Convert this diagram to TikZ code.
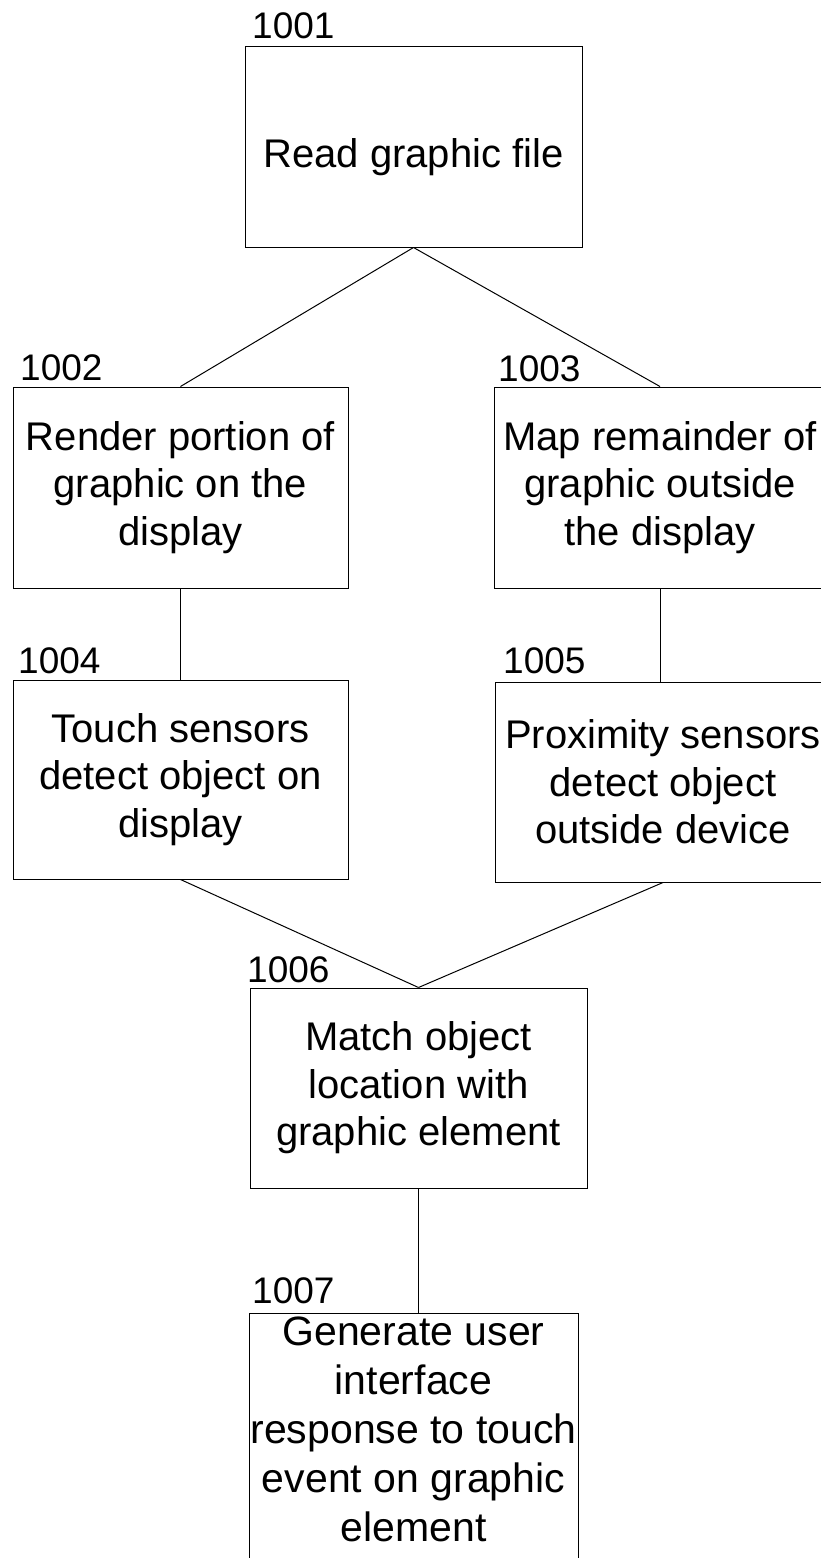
\documentclass[tikz,border=0pt]{standalone}
\usepackage{fontspec}
\setmainfont{Liberation Sans}
\begin{document}
\begin{tikzpicture}[x=1pt,y=-1pt,
  box/.style={draw=black, line width=1pt, minimum width=335pt, minimum height=200pt,
    inner sep=0pt, align=center, font=\fontsize{40}{47.5}\selectfont},
  num/.style={anchor=base west, inner sep=0pt, font=\fontsize{37}{40}\selectfont},
  link/.style={draw=black, line width=1pt}]
\clip (0,0) rectangle (821,1558);
\fill[white] (0,0) rectangle (821,1558);
\node[box, minimum width=337pt, minimum height=201pt, text height=45pt, text depth=4pt] (n1) at (413.5,146.5) {Read graphic file};
\node[box, minimum height=201pt] (n2) at (180.5,487.5) {Render portion of\\graphic on the\\display};
\node[box, minimum width=332pt, minimum height=201pt] (n3) at (660,487.5) {Map remainder of\\graphic outside\\the display};
\node[box, minimum height=199pt] (n4) at (180.5,779.5) {Touch sensors\\detect object on\\display};
\node[box, minimum width=336pt] (n5) at (663,782) {Proximity sensors\\detect object\\outside device};
\node[box, minimum width=337pt] (n6) at (418.5,1088) {Match object\\location with\\graphic element};
\node[box, anchor=north, minimum width=329pt, minimum height=0pt, inner ysep=3pt,
  font=\fontsize{41}{49}\selectfont] (n7) at (413.5,1313)
  {Generate user\\interface\\response to touch\\event on graphic\\element\rule[-40pt]{0pt}{1pt}};
\node[num] (l1) at (252,38) {1001};
\node[num] (l2) at (20,380) {1002};
\node[num] (l3) at (498,381) {1003};
\node[num] (l4) at (18,673) {1004};
\node[num] (l5) at (503,673) {1005};
\node[num] (l6) at (247,982) {1006};
\node[num] (l7) at (252,1303) {1007};
\draw[link] (n1.south) -- (n2.north);
\draw[link] (n1.south) -- (n3.north);
\draw[link] (n2.south) -- (n4.north);
\draw[link] (n3.south) -- (n3.south |- n5.north);
\draw[link] (n4.south) -- (n6.north);
\draw[link] (n5.south) -- (n6.north);
\draw[link] (n6.south) -- (n6.south |- n7.north);
\end{tikzpicture}
\end{document}
